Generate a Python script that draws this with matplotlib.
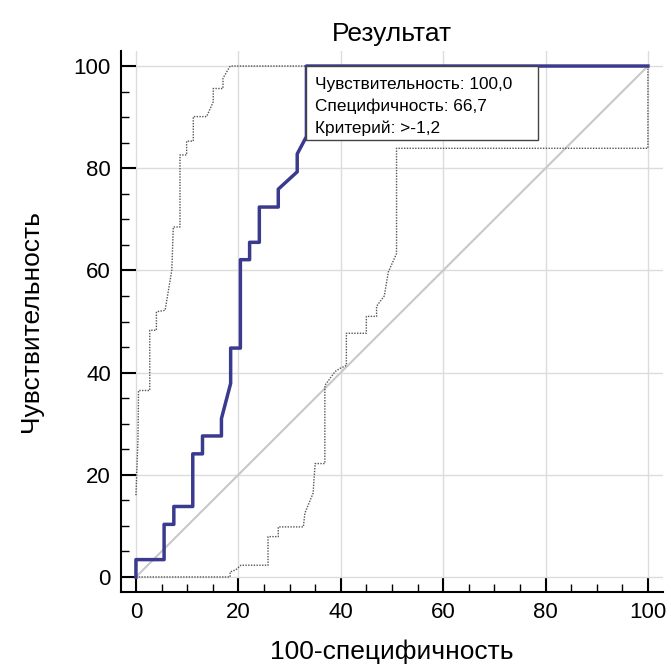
import matplotlib
matplotlib.use("Agg")
import matplotlib.pyplot as plt
from matplotlib.patches import Rectangle
from matplotlib.ticker import MultipleLocator

plt.rcParams['font.family'] = ['Liberation Sans', 'DejaVu Sans']

# ROC curve (100-specificity, sensitivity)
roc_x = [0, 0, 5.5, 5.5, 7.4, 7.4, 11.1, 11.1, 13.0, 13.0, 16.7, 16.7, 18.5, 18.5,
         20.4, 20.4, 22.2, 22.2, 24.1, 24.1, 27.8, 27.8, 31.5, 31.5, 33.3, 33.3, 100]
roc_y = [0, 3.4, 3.4, 10.3, 10.3, 13.8, 13.8, 24.1, 24.1, 27.6, 27.6, 31.0, 37.9, 44.8,
         44.8, 62.1, 62.1, 65.5, 65.5, 72.4, 72.4, 75.9, 79.3, 82.8, 86.2, 100, 100]

# upper confidence bound
upper_x = [0, 0.4, 0.5, 2.7, 2.7, 4.0, 4.0, 5.7, 7.0, 7.3, 8.6, 8.6, 9.9, 9.9, 11.2,
           11.2, 13.8, 15.1, 15.1, 17.0, 17.0, 18.4, 100]
upper_y = [16, 27, 36.5, 36.5, 48.3, 48.3, 51.9, 52.2, 60.0, 68.5, 68.5, 82.6, 82.6,
           85.3, 85.3, 90.1, 90.1, 93.0, 95.6, 95.6, 97.6, 100, 100]

# lower confidence bound
lower_x = [0, 18.4, 18.4, 19.5, 20.5, 25.8, 25.8, 27.8, 27.8, 32.7, 33.0, 34.6, 35.0,
           36.9, 36.9, 38.9, 39.8, 41.1, 41.1, 45.0, 45.0, 47.0, 47.0, 48.5, 49.3,
           50.9, 50.9, 100, 100]
lower_y = [0, 0, 1.0, 1.4, 2.3, 2.3, 7.9, 7.9, 9.8, 9.8, 12.5, 16.4, 22.2, 22.2, 37.5,
           40.2, 40.8, 41.4, 47.7, 47.7, 51.0, 51.0, 53.0, 55.0, 59.7, 63.3, 83.9,
           83.9, 100]

info_lines = ["Чувствительность: 100,0", "Специфичность: 66,7", "Критерий: >-1,2"]

fig = plt.figure(figsize=(6.71, 6.68), dpi=100)
ax = fig.add_axes([0.1797, 0.1133, 0.8088, 0.8108])

ax.grid(True, color='#dcdcdc', linewidth=1)
ax.set_axisbelow(True)

ax.plot([0, 100], [0, 100], color='#c8c8c8', linewidth=1.5, zorder=2)
ax.plot(upper_x, upper_y, color='#555555', linewidth=1, linestyle=(0, (1, 1)), zorder=3)
ax.plot(lower_x, lower_y, color='#555555', linewidth=1, linestyle=(0, (1, 1)), zorder=3)
ax.plot(roc_x, roc_y, color='#3a3a8e', linewidth=2.5, zorder=4)

# info box
ax.add_patch(Rectangle((33.3, 85.5), 45.3, 14.5, facecolor='white',
                       edgecolor='#444444', linewidth=1, zorder=5))
for i, line in enumerate(info_lines):
    ax.text(35.0, 96.4 - i * 4.3, line, fontsize=12.4, va='center', ha='left', zorder=6)

ax.set_xlim(-3, 103)
ax.set_ylim(-3, 103)
ax.xaxis.set_major_locator(MultipleLocator(20))
ax.yaxis.set_major_locator(MultipleLocator(20))
ax.xaxis.set_minor_locator(MultipleLocator(5))
ax.yaxis.set_minor_locator(MultipleLocator(5))
ax.tick_params(which='major', direction='in', length=11, width=1.5, labelsize=16, pad=7)
ax.tick_params(which='minor', direction='in', length=6, width=1)

for s in ['top', 'right']:
    ax.spines[s].set_visible(False)
for s in ['left', 'bottom']:
    ax.spines[s].set_linewidth(1.5)

ax.set_title("Результат", fontsize=19, pad=7)
ax.set_xlabel("100-специфичность", fontsize=19, labelpad=12)
ax.set_ylabel("Чувствительность", fontsize=19, labelpad=22)

fig.savefig("out.png", dpi=100)
